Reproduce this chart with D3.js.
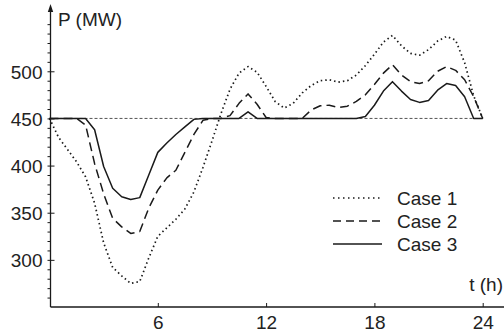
<!DOCTYPE html>
<html><head><meta charset="utf-8">
<script src="https://cdn.jsdelivr.net/npm/d3@7"></script>
<style>
html,body{margin:0;padding:0;background:#fff;}
svg{display:block;font-family:"Liberation Sans",Arial,sans-serif;}
</style></head>
<body><svg id="c" width="504" height="333"></svg>
<script>
// hours (half-hour steps 0..24)
const hours = d3.range(0, 24.01, 0.5);
const case1 = [450,430,417,404,388,360,318,292,283,275,277,302,325,334,343,354,372,398,426,455,481,498,505,499,484,468,461,466,477,485,490,491,488.5,490,496,506,518,531,538,527,519,517,523,532,537,533,509,474,450];
const case2 = [450,450,450,450,443,402,370,344,335,328,330,355,374,387,395,414,433,448,450,450,453,466,476,465,451,450,450,450,450,459,463.5,464,461.5,463,468,475,486,498,507,496,489,487,490,500,505,501,491,473,450];
const case3 = [450,450,450,450,450,438,399,376,367,364,366,390,414,424,433,441,449,450,450,450,450,450,457,450,450,450,450,450,450,450,450,450,450,450,450,452,464,479,489,479,470,467,469,480,487,485,473,450,450];
const seriesNames = ["Case 1","Case 2","Case 3"];
const xTicks = [6,12,18,24];
const yTicks = [300,350,400,450,500];
const yMinor = d3.range(260, 551, 10);
const baseLevel = 450;

const svg = d3.select("#c");
const x = d3.scaleLinear().domain([0,24]).range([49.5,482.7]);
const y = d3.scaleLinear().domain([250,565]).range([307,10]);
const ink = "#1a1a1a";
const fs = 19;

// reference level line
svg.append("line")
  .attr("x1", x(0)).attr("x2", x(24))
  .attr("y1", y(baseLevel)).attr("y2", y(baseLevel))
  .attr("stroke","#555").attr("stroke-width",1).attr("stroke-dasharray","3,2");

const styles = [
  {dash:"1.5,3", w:1.7},
  {dash:"9,5", w:1.5},
  {dash:null, w:1.5}
];
const data = [case1, case2, case3];
const line = d3.line().x((d,i)=>x(hours[i])).y(d=>y(d));
data.forEach((s,k)=>{
  const p = svg.append("path").datum(s).attr("d", line)
    .attr("fill","none").attr("stroke",ink).attr("stroke-width",styles[k].w)
    .attr("stroke-linejoin","round");
  if (styles[k].dash) p.attr("stroke-dasharray", styles[k].dash);
});

// axes
const xAxis = svg.append("g").attr("transform","translate(0,307)")
  .call(d3.axisBottom(x).tickValues(xTicks).tickSize(-4).tickPadding(9).tickFormat(d3.format("d")));
xAxis.select(".domain").remove();
svg.append("line").attr("x1",50.5).attr("x2",504).attr("y1",307).attr("y2",307)
  .attr("stroke",ink).attr("stroke-width",1.3);

const yAxisMinor = svg.append("g").attr("transform","translate(50.5,0)")
  .call(d3.axisLeft(y).tickValues(yMinor).tickSize(3).tickFormat(""));
yAxisMinor.select(".domain").remove();
const yAxis = svg.append("g").attr("transform","translate(50.5,0)")
  .call(d3.axisLeft(y).tickValues(yTicks).tickSize(-4).tickPadding(10).tickFormat(d3.format("d")));
yAxis.select(".domain").remove();
svg.append("line").attr("x1",50.5).attr("x2",50.5).attr("y1",307).attr("y2",10)
  .attr("stroke",ink).attr("stroke-width",1.3);
svg.append("path").attr("d","M50.5,4 L47.8,12 L53.2,12 Z").attr("fill",ink);

svg.selectAll(".tick line").attr("stroke",ink).attr("stroke-width",1);
svg.selectAll(".tick text").attr("fill","#222").style("font-size",fs+"px")
  .style("font-family","'Liberation Sans',Arial,sans-serif");
yAxis.selectAll(".tick text").attr("x",-8).attr("dy","0.36em");

// axis titles
svg.append("text").attr("x",58).attr("y",26).attr("fill","#222")
  .style("font-size",fs+"px").text("P (MW)");
svg.append("text").attr("x",503).attr("y",291).attr("text-anchor","end").attr("fill","#222")
  .style("font-size",fs+"px").text("t (h)");

// legend
const legY = [198,221,244];
seriesNames.forEach((n,k)=>{
  const l = svg.append("line").attr("x1",333).attr("x2",382)
    .attr("y1",legY[k]).attr("y2",legY[k])
    .attr("stroke",ink).attr("stroke-width",styles[k].w);
  if (styles[k].dash) l.attr("stroke-dasharray", k===0 ? "1.5,3.5" : "8,5");
  svg.append("text").attr("x",397).attr("y",legY[k]+6.5).attr("fill","#222")
    .style("font-size",fs+"px").text(n);
});
</script></body></html>
